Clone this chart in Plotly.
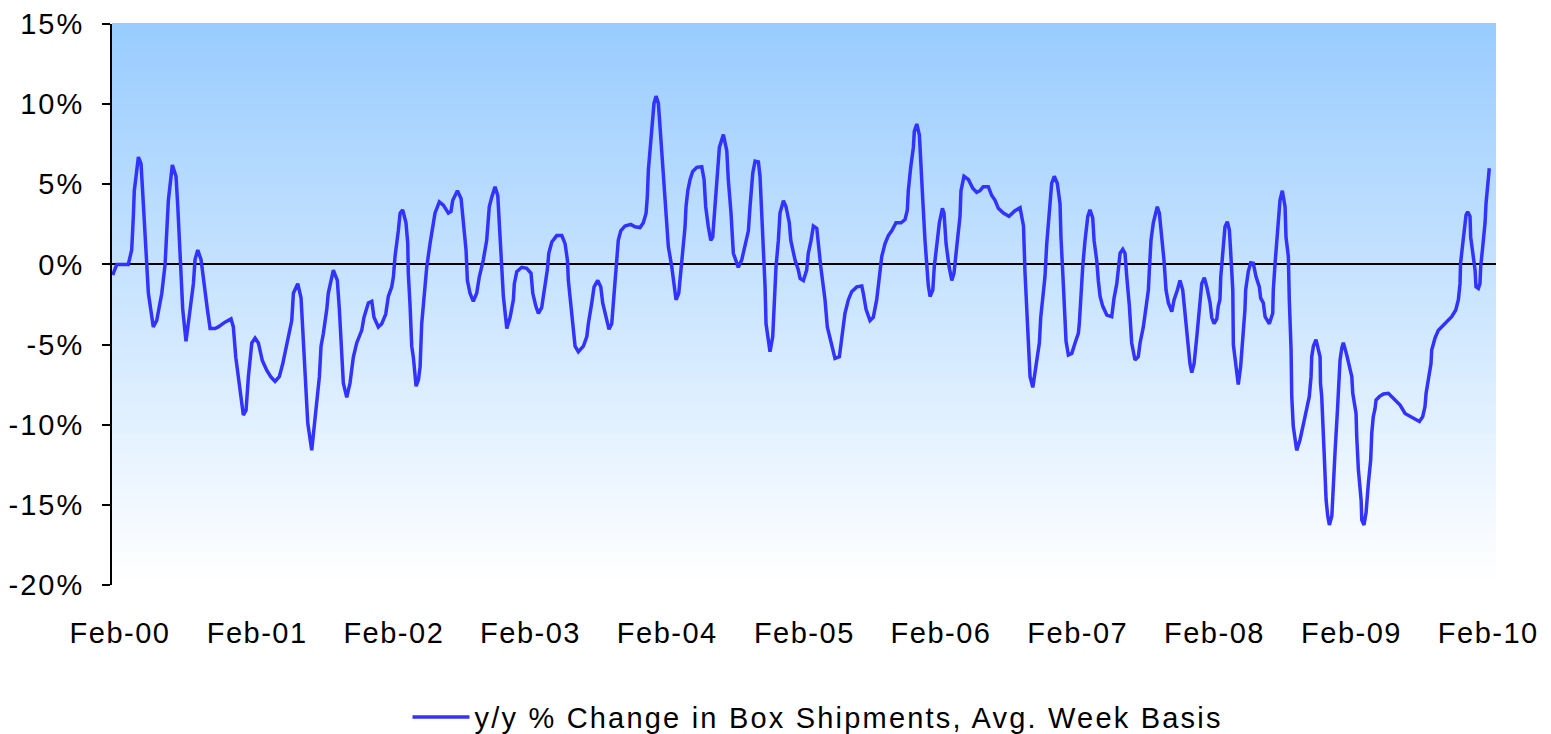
import pandas as pd
import plotly.graph_objects as go

# ── Dados ───────────────────────────────────────────────────────────
# tempo em anos decimais, variação y/y em %
year_frac = [
    2000.031, 2000.061, 2000.145, 2000.170, 2000.182, 2000.189, 2000.219, 2000.238, 2000.251, 2000.280,
    2000.292, 2000.309, 2000.328, 2000.353, 2000.390, 2000.414, 2000.426, 2000.438, 2000.467, 2000.494,
    2000.507, 2000.523, 2000.543, 2000.567, 2000.584, 2000.621, 2000.633, 2000.653, 2000.677, 2000.694,
    2000.723, 2000.743, 2000.779, 2000.803, 2000.852, 2000.896, 2000.913, 2000.931, 2000.962, 2000.986,
    2001.006, 2001.023, 2001.048, 2001.072, 2001.096, 2001.125, 2001.157, 2001.186, 2001.218, 2001.249,
    2001.274, 2001.303, 2001.322, 2001.340, 2001.352, 2001.384, 2001.408, 2001.430, 2001.457, 2001.486,
    2001.510, 2001.542, 2001.554, 2001.571, 2001.596, 2001.607, 2001.644, 2001.673, 2001.688, 2001.698,
    2001.717, 2001.742, 2001.766, 2001.790, 2001.815, 2001.852, 2001.868, 2001.900, 2001.925, 2001.941,
    2001.973, 2001.998, 2002.027, 2002.046, 2002.071, 2002.083, 2002.095, 2002.119, 2002.132, 2002.151,
    2002.175, 2002.188, 2002.192, 2002.205, 2002.217, 2002.229, 2002.249, 2002.266, 2002.278, 2002.290,
    2002.307, 2002.327, 2002.351, 2002.375, 2002.387, 2002.419, 2002.448, 2002.485, 2002.504, 2002.517,
    2002.551, 2002.578, 2002.594, 2002.614, 2002.624, 2002.643, 2002.667, 2002.692, 2002.711, 2002.740,
    2002.765, 2002.784, 2002.802, 2002.826, 2002.846, 2002.863, 2002.870, 2002.887, 2002.912, 2002.936,
    2002.960, 2002.967, 2002.985, 2003.021, 2003.058, 2003.089, 2003.102, 2003.124, 2003.143, 2003.167,
    2003.179, 2003.208, 2003.219, 2003.241, 2003.277, 2003.314, 2003.338, 2003.355, 2003.362, 2003.387,
    2003.404, 2003.411, 2003.435, 2003.472, 2003.497, 2003.508, 2003.533, 2003.550, 2003.577, 2003.599,
    2003.613, 2003.643, 2003.659, 2003.679, 2003.691, 2003.698, 2003.716, 2003.727, 2003.745, 2003.776,
    2003.818, 2003.849, 2003.886, 2003.910, 2003.930, 2003.939, 2003.947, 2003.972, 2003.988, 2004.003,
    2004.020, 2004.032, 2004.045, 2004.061, 2004.069, 2004.086, 2004.093, 2004.118, 2004.135, 2004.149,
    2004.169, 2004.178, 2004.198, 2004.215, 2004.222, 2004.235, 2004.252, 2004.271, 2004.301, 2004.337,
    2004.354, 2004.366, 2004.385, 2004.403, 2004.417, 2004.434, 2004.451, 2004.466, 2004.495, 2004.520,
    2004.531, 2004.551, 2004.568, 2004.604, 2004.629, 2004.653, 2004.678, 2004.690, 2004.710, 2004.727,
    2004.751, 2004.763, 2004.776, 2004.787, 2004.800, 2004.807, 2004.824, 2004.836, 2004.856, 2004.865,
    2004.880, 2004.897, 2004.909, 2004.934, 2004.953, 2004.977, 2004.988, 2005.019, 2005.043, 2005.056,
    2005.080, 2005.104, 2005.116, 2005.136, 2005.153, 2005.178, 2005.189, 2005.207, 2005.226, 2005.238,
    2005.255, 2005.287, 2005.311, 2005.343, 2005.368, 2005.384, 2005.409, 2005.433, 2005.470, 2005.507,
    2005.518, 2005.538, 2005.567, 2005.591, 2005.616, 2005.635, 2005.653, 2005.677, 2005.701, 2005.726,
    2005.757, 2005.794, 2005.823, 2005.840, 2005.847, 2005.865, 2005.884, 2005.891, 2005.909, 2005.928,
    2005.938, 2005.953, 2005.969, 2005.982, 2005.993, 2006.006, 2006.026, 2006.037, 2006.055, 2006.074,
    2006.096, 2006.108, 2006.123, 2006.145, 2006.165, 2006.181, 2006.201, 2006.225, 2006.232, 2006.254,
    2006.286, 2006.318, 2006.347, 2006.371, 2006.395, 2006.432, 2006.457, 2006.481, 2006.505, 2006.542,
    2006.583, 2006.627, 2006.664, 2006.689, 2006.700, 2006.713, 2006.725, 2006.737, 2006.757, 2006.781,
    2006.805, 2006.815, 2006.834, 2006.846, 2006.859, 2006.878, 2006.895, 2006.914, 2006.936, 2006.956,
    2006.963, 2006.980, 2006.992, 2007.000, 2007.017, 2007.042, 2007.066, 2007.090, 2007.097, 2007.107,
    2007.122, 2007.139, 2007.151, 2007.159, 2007.175, 2007.195, 2007.205, 2007.224, 2007.236, 2007.249,
    2007.268, 2007.298, 2007.334, 2007.351, 2007.371, 2007.390, 2007.395, 2007.415, 2007.431, 2007.444,
    2007.463, 2007.480, 2007.504, 2007.528, 2007.541, 2007.565, 2007.585, 2007.602, 2007.609, 2007.621,
    2007.638, 2007.667, 2007.682, 2007.700, 2007.716, 2007.731, 2007.748, 2007.773, 2007.790, 2007.814,
    2007.833, 2007.853, 2007.870, 2007.883, 2007.906, 2007.919, 2007.936, 2007.956, 2007.974, 2007.980,
    2007.992, 2008.011, 2008.029, 2008.053, 2008.065, 2008.082, 2008.102, 2008.113, 2008.125, 2008.131,
    2008.145, 2008.162, 2008.179, 2008.194, 2008.204, 2008.219, 2008.223, 2008.242, 2008.259, 2008.276,
    2008.291, 2008.308, 2008.313, 2008.325, 2008.332, 2008.350, 2008.369, 2008.389, 2008.413, 2008.423,
    2008.442, 2008.455, 2008.486, 2008.511, 2008.515, 2008.528, 2008.545, 2008.559, 2008.564, 2008.581,
    2008.601, 2008.608, 2008.625, 2008.632, 2008.645, 2008.650, 2008.661, 2008.686, 2008.710, 2008.747,
    2008.759, 2008.778, 2008.791, 2008.796, 2008.808, 2008.827, 2008.844, 2008.857, 2008.860, 2008.869,
    2008.886, 2008.901, 2008.913, 2008.925, 2008.943, 2008.950, 2008.967, 2008.984, 2008.991, 2009.003,
    2009.016, 2009.027, 2009.052, 2009.076, 2009.089, 2009.096, 2009.105, 2009.120, 2009.125, 2009.137,
    2009.157, 2009.162, 2009.178, 2009.193, 2009.210, 2009.227, 2009.235, 2009.246, 2009.259, 2009.266,
    2009.290, 2009.320, 2009.356, 2009.393, 2009.442, 2009.478, 2009.527, 2009.583, 2009.607, 2009.624,
    2009.632, 2009.649, 2009.668, 2009.673, 2009.697, 2009.722, 2009.771, 2009.819, 2009.849, 2009.868,
    2009.880, 2009.884, 2009.900, 2009.917, 2009.924, 2009.936, 2009.953, 2009.958, 2009.973, 2009.990,
    2009.997, 2010.014, 2010.026, 2010.031, 2010.046, 2010.063, 2010.070, 2010.080, 2010.094,
]

yoy_pct = [
    -0.66, 0.0, 0.0, 0.9, 3.0, 4.6, 6.7, 6.3, 4.4, 0.5,
    -1.8, -2.8, -3.9, -3.5, -1.8, 0.0, 2.1, 4.0, 6.2, 5.5,
    3.6, 0.5, -2.8, -4.8, -3.7, -1.2, 0.3, 0.9, 0.3, -1.0,
    -2.8, -4.0, -4.0, -3.9, -3.6, -3.4, -3.9, -5.8, -7.8, -9.4,
    -9.1, -7.0, -4.9, -4.6, -4.9, -6.0, -6.6, -7.0, -7.3, -7.0,
    -6.2, -4.9, -4.1, -3.5, -1.8, -1.2, -2.1, -5.8, -9.9, -11.6,
    -9.5, -7.0, -5.1, -4.3, -2.8, -1.8, -0.35, -1.0, -2.8, -4.5,
    -7.4, -8.3, -7.4, -5.8, -4.9, -4.1, -3.3, -2.4, -2.3, -3.3,
    -3.9, -3.7, -3.1, -2.0, -1.4, -0.77, 0.5, 2.1, 3.2, 3.4,
    2.6, 1.3, -0.55, -2.6, -5.1, -5.8, -7.6, -7.2, -6.4, -3.7,
    -2.0, -0.14, 1.3, 2.6, 3.2, 3.9, 3.7, 3.2, 3.3, 4.0,
    4.6, 4.1, 2.6, 0.9, -1.0, -1.8, -2.3, -1.8, -0.77, 0.27,
    1.5, 3.6, 4.2, 4.85, 4.3, 1.9, 0.07, -2.0, -4.0, -3.3,
    -2.2, -1.2, -0.45, -0.18, -0.24, -0.55, -1.8, -2.6, -3.05, -2.7,
    -2.0, -0.35, 0.7, 1.4, 1.8, 1.8, 1.3, 0.27, -1.0, -3.05,
    -4.3, -5.1, -5.45, -5.1, -4.5, -3.7, -2.4, -1.4, -1.0, -1.4,
    -2.4, -3.5, -4.05, -3.7, -2.4, -1.0, 0.27, 1.5, 2.1, 2.4,
    2.5, 2.35, 2.3, 2.6, 3.2, 4.2, 5.9, 8.2, 10.05, 10.5,
    10.05, 8.6, 7.1, 5.3, 3.8, 2.35, 1.1, -0.14, -1.2, -2.2,
    -1.8, -1.0, 0.7, 2.35, 3.6, 4.6, 5.3, 5.8, 6.06, 6.1,
    5.3, 3.6, 2.35, 1.5, 1.7, 3.6, 5.3, 7.3, 8.1, 7.1,
    5.3, 3.2, 0.7, -0.18, 0.27, 1.1, 2.1, 3.6, 5.7, 6.45,
    6.4, 5.5, 3.2, 0.7, -1.4, -3.7, -4.9, -5.45, -4.5, -2.6,
    -0.14, 1.5, 3.2, 3.97, 3.6, 2.6, 1.5, 0.27, -0.35, -0.87,
    -1.0, -0.35, 0.7, 1.5, 2.4, 2.25, 1.1, -0.14, -1.4, -2.2,
    -3.9, -5.1, -5.86, -5.76, -4.3, -3.05, -2.2, -1.7, -1.4, -1.35,
    -1.8, -2.8, -3.5, -3.3, -2.2, -0.77, 0.5, 1.3, 1.8, 2.1,
    2.6, 2.6, 2.8, 3.4, 4.6, 6.1, 7.3, 8.3, 8.76, 8.07,
    6.1, 4.0, 1.5, -0.35, -1.3, -2.0, -1.6, -0.14, 1.1, 2.6,
    3.5, 3.2, 1.3, -0.14, -1.0, -0.55, 1.1, 3.0, 4.6, 5.5,
    5.3, 4.75, 4.5, 4.6, 4.85, 4.85, 4.3, 4.0, 3.5, 3.2,
    3.0, 3.35, 3.54, 2.4, -0.5, -3.2, -5.3, -7.0, -7.67, -6.2,
    -4.9, -3.3, -2.0, -0.77, 1.3, 3.0, 5.06, 5.5, 5.06, 3.8,
    1.7, -1.2, -3.3, -4.8, -5.65, -5.55, -4.9, -4.3, -3.7, -1.8,
    -0.14, 1.5, 2.35, 3.0, 3.4, 2.9, 1.5, 0.27, -1.0, -2.0,
    -2.6, -3.16, -3.26, -2.1, -1.2, 0.07, 0.7, 0.94, 0.7, -0.77,
    -2.6, -4.9, -5.96, -5.76, -4.9, -3.9, -2.6, -1.6, -0.35, 1.5,
    2.6, 3.6, 3.2, 1.7, 0.27, -1.6, -2.4, -2.95, -2.2, -1.6,
    -1.0, -1.6, -3.05, -4.5, -6.2, -6.75, -6.2, -4.5, -2.8, -1.8,
    -1.2, -0.83, -1.4, -2.4, -3.3, -3.7, -3.4, -2.6, -2.2, -0.77,
    0.9, 2.35, 2.66, 2.15, 0.7, -1.6, -5.0, -6.6, -7.5, -6.4,
    -4.9, -2.8, -1.6, -1.0, -0.45, 0.1, 0.07, -0.77, -1.4, -2.1,
    -2.4, -3.26, -3.7, -3.05, -1.6, 0.07, 1.7, 3.0, 4.0, 4.6,
    3.6, 1.7, 0.5, -2.2, -5.3, -8.25, -10.1, -11.6, -10.95, -9.5,
    -8.9, -8.25, -7.0, -5.76, -5.1, -4.7, -5.3, -5.76, -7.4, -8.25,
    -11.6, -14.7, -15.7, -16.26, -15.7, -14.1, -11.6, -9.1, -7.4, -5.96,
    -5.2, -4.88, -5.65, -6.6, -7.0, -8.04, -8.67, -9.3, -10.75, -12.8,
    -14.7, -15.95, -16.26, -15.5, -13.65, -12.2, -10.5, -9.5, -8.98, -8.46,
    -8.25, -8.08, -8.04, -8.35, -8.77, -9.3, -9.56, -9.8, -9.5, -8.87,
    -8.04, -7.2, -6.17, -5.34, -4.6, -4.1, -3.67, -3.26, -2.84, -2.2,
    -1.2, 0.07, 1.3, 2.35, 3.08, 3.29, 3.0, 1.7, 0.9, -0.35,
    -1.4, -1.5, -1.2, -0.14, 1.1, 2.6, 3.8, 4.85, 6.0,
]

tick_years = list(range(2000, 2011))
x_tick_labels = ["Feb-00", "Feb-01", "Feb-02", "Feb-03", "Feb-04", "Feb-05",
                 "Feb-06", "Feb-07", "Feb-08", "Feb-09", "Feb-10"]
y_tick_vals = [-20, -15, -10, -5, 0, 5, 10, 15]
y_tick_labels = ["-20%", "-15%", "-10%", "-5%", "0%", "5%", "10%", "15%"]
series_name = "y/y % Change in Box Shipments, Avg. Week Basis"

LINE_COLOR = "#3333FF"
GRAD_TOP = (153, 204, 255)
GRAD_BOTTOM = (255, 255, 255)
FONT = "Liberation Sans, Arial, sans-serif"


def to_date(y):
    return pd.Timestamp(2000, 1, 1) + pd.Timedelta(days=(y - 2000) * 365.25)


def spaced(txt, px=1.5):
    return f"<span style='letter-spacing:{px}px'>{txt}</span>"


dates = [to_date(y) for y in year_frac]
tick_dates = [pd.Timestamp(y, 2, 1) for y in tick_years]

fig = go.Figure()
fig.add_trace(go.Scatter(
    x=dates, y=yoy_pct, mode="lines", name=spaced(series_name, 2.2),
    line=dict(color=LINE_COLOR, width=3.5),
))

# fundo em degradê (faixas horizontais)
n_strips = 90
shapes = []
for i in range(n_strips):
    f = i / (n_strips - 1)
    r, g, b = [round(t + (bt - t) * f) for t, bt in zip(GRAD_TOP, GRAD_BOTTOM)]
    shapes.append(dict(
        type="rect", xref="x domain", yref="y domain", layer="below",
        x0=0, x1=1, y0=1 - (i + 1) / n_strips, y1=1 - i / n_strips + 0.002,
        fillcolor=f"rgb({r},{g},{b})", line=dict(width=0),
    ))

fig.update_layout(
    width=1551, height=734,
    paper_bgcolor="white", plot_bgcolor="white",
    margin=dict(l=112, r=55, t=24, b=149, autoexpand=False),
    font=dict(family=FONT, size=29, color="black"),
    shapes=shapes,
    showlegend=True,
    legend=dict(
        orientation="h", x=0.2135, xanchor="left",
        yref="container", y=0.023, yanchor="middle",
        itemwidth=57,
        font=dict(size=29), bgcolor="rgba(0,0,0,0)",
    ),
    xaxis=dict(
        type="date", range=[to_date(2000.026), to_date(2010.143)],
        tickvals=tick_dates, ticktext=[spaced(t) for t in x_tick_labels],
        showgrid=False, showline=False, zeroline=False, ticks="",
        ticklabelstandoff=28, automargin=False,
    ),
    yaxis=dict(
        range=[-20, 15], tickvals=y_tick_vals,
        ticktext=[spaced(t, 2) for t in y_tick_labels],
        showgrid=False, showline=True, linecolor="black", linewidth=2,
        ticks="outside", ticklen=8, tickwidth=2, tickcolor="black",
        zeroline=True, zerolinecolor="black", zerolinewidth=2,
        ticklabelstandoff=12, automargin=False,
    ),
)

fig.write_html(
    "out.html",
    config={"displayModeBar": False},
    post_script="document.body.style.margin='0';",
)
